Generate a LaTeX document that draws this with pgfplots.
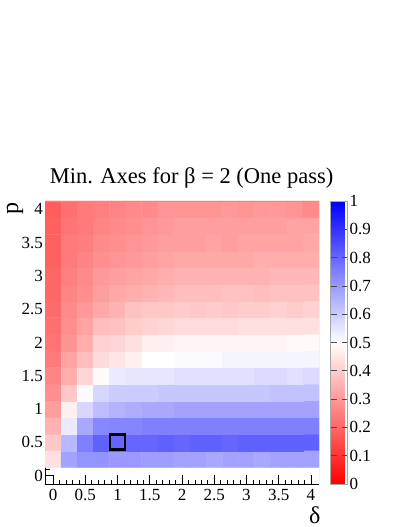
\documentclass[border=0pt]{standalone}
\usepackage{pgfplots}
\pgfplotsset{compat=1.18}
\usepackage{fontspec}
\setmainfont{Liberation Serif}
\begin{document}
\begin{tikzpicture}
\useasboundingbox (0pt,0pt) rectangle (407pt,527pt);
\begin{axis}[
  at={(45pt,43pt)}, anchor=south west,
  scale only axis, width=274pt, height=283pt,
  xmin=-0.125, xmax=4.125, ymin=-0.125, ymax=4.125,
  axis x line*=bottom, axis y line*=left,
  axis line style={black, line width=0.7pt},
  xtick={0,0.5,1,1.5,2,2.5,3,3.5,4},
  ytick={0,0.5,1,1.5,2,2.5,3,3.5,4},
  xticklabels={0,0.5,1,1.5,2,2.5,3,3.5,4},
  yticklabels={0,0.5,1,1.5,2,2.5,3,3.5,4},
  minor x tick num=4, minor y tick num=4,
  tick align=inside,
  major tick length=9pt, minor tick length=4.5pt,
  tick style={black, line width=0.6pt},
  /pgf/number format/assume math mode=true,
  ticklabel style={font=\fontsize{17}{17}\selectfont},
  xticklabel style={inner sep=0pt, yshift=-5pt},
  yticklabel style={inner sep=1pt, xshift=-1pt},
  title={Min. Axes for β = 2 (One pass)},
  title style={at={(axis description cs:0.535,1)}, anchor=base, yshift=11pt, font=\fontsize{22.5}{24}\selectfont},
  xlabel={δ},
  xlabel style={at={(axis description cs:0.985,0)}, anchor=base, yshift=-39pt, font=\fontsize{24}{24}\selectfont},
  ylabel={p},
  ylabel style={at={(axis description cs:-0.098,1)}, anchor=base east, inner sep=1pt, font=\fontsize{24}{24}\selectfont},
  colormap={rwb}{rgb255=(255,0,0) rgb255=(255,255,255) rgb255=(0,0,255)},
  point meta min=0, point meta max=1,
  colorbar,
  colorbar style={
    at={(parent axis.north east)}, anchor=north west, xshift=3pt,
    width=17pt,
    ytick={0,0.1,0.2,0.3,0.4,0.5,0.6,0.7,0.8,0.9,1},
    yticklabels={0,0.1,0.2,0.3,0.4,0.5,0.6,0.7,0.8,0.9,1},
    tick align=inside, major tick length=6pt,
    tick style={black!70, line width=0.6pt},
    axis line style={gray!70},
    /pgf/number format/assume math mode=true,
    yticklabel style={font=\fontsize{17}{17}\selectfont, anchor=west, inner sep=1pt, xshift=1pt},
  },
]
\addplot[matrix plot*, mesh/cols=17, point meta=explicit] table[row sep=\\, meta=c] {
x y c\\
0 0.25 0.44\\ 0.25 0.25 0.68\\ 0.5 0.25 0.71\\ 0.75 0.25 0.71\\ 1 0.25 0.70\\ 1.25 0.25 0.70\\ 1.5 0.25 0.69\\ 1.75 0.25 0.69\\ 2 0.25 0.68\\ 2.25 0.25 0.68\\ 2.5 0.25 0.67\\ 2.75 0.25 0.68\\ 3 0.25 0.68\\ 3.25 0.25 0.67\\ 3.5 0.25 0.68\\ 3.75 0.25 0.68\\ 4 0.25 0.68\\
0 0.5 0.39\\ 0.25 0.5 0.64\\ 0.5 0.5 0.75\\ 0.75 0.5 0.81\\ 1 0.5 0.80\\ 1.25 0.5 0.80\\ 1.5 0.5 0.80\\ 1.75 0.5 0.81\\ 2 0.5 0.80\\ 2.25 0.5 0.81\\ 2.5 0.5 0.81\\ 2.75 0.5 0.80\\ 3 0.5 0.81\\ 3.25 0.5 0.81\\ 3.5 0.5 0.81\\ 3.75 0.5 0.81\\ 4 0.5 0.81\\
0 0.75 0.35\\ 0.25 0.75 0.54\\ 0.5 0.75 0.67\\ 0.75 0.75 0.735\\ 1 0.75 0.74\\ 1.25 0.75 0.74\\ 1.5 0.75 0.75\\ 1.75 0.75 0.75\\ 2 0.75 0.75\\ 2.25 0.75 0.75\\ 2.5 0.75 0.75\\ 2.75 0.75 0.75\\ 3 0.75 0.75\\ 3.25 0.75 0.75\\ 3.5 0.75 0.75\\ 3.75 0.75 0.75\\ 4 0.75 0.75\\
0 1 0.31\\ 0.25 1 0.47\\ 0.5 1 0.58\\ 0.75 1 0.63\\ 1 1 0.65\\ 1.25 1 0.66\\ 1.5 1 0.67\\ 1.75 1 0.67\\ 2 1 0.68\\ 2.25 1 0.68\\ 2.5 1 0.68\\ 2.75 1 0.68\\ 3 1 0.68\\ 3.25 1 0.68\\ 3.5 1 0.68\\ 3.75 1 0.68\\ 4 1 0.68\\
0 1.25 0.28\\ 0.25 1.25 0.39\\ 0.5 1.25 0.51\\ 0.75 1.25 0.58\\ 1 1.25 0.60\\ 1.25 1.25 0.60\\ 1.5 1.25 0.60\\ 1.75 1.25 0.61\\ 2 1.25 0.61\\ 2.25 1.25 0.61\\ 2.5 1.25 0.61\\ 2.75 1.25 0.61\\ 3 1.25 0.61\\ 3.25 1.25 0.61\\ 3.5 1.25 0.62\\ 3.75 1.25 0.62\\ 4 1.25 0.62\\
0 1.5 0.26\\ 0.25 1.5 0.34\\ 0.5 1.5 0.42\\ 0.75 1.5 0.49\\ 1 1.5 0.54\\ 1.25 1.5 0.55\\ 1.5 1.5 0.55\\ 1.75 1.5 0.55\\ 2 1.5 0.56\\ 2.25 1.5 0.56\\ 2.5 1.5 0.56\\ 2.75 1.5 0.56\\ 3 1.5 0.56\\ 3.25 1.5 0.57\\ 3.5 1.5 0.57\\ 3.75 1.5 0.56\\ 4 1.5 0.57\\
0 1.75 0.24\\ 0.25 1.75 0.32\\ 0.5 1.75 0.37\\ 0.75 1.75 0.43\\ 1 1.75 0.45\\ 1.25 1.75 0.47\\ 1.5 1.75 0.50\\ 1.75 1.75 0.50\\ 2 1.75 0.51\\ 2.25 1.75 0.51\\ 2.5 1.75 0.51\\ 2.75 1.75 0.52\\ 3 1.75 0.52\\ 3.25 1.75 0.52\\ 3.5 1.75 0.52\\ 3.75 1.75 0.52\\ 4 1.75 0.52\\
0 2 0.23\\ 0.25 2 0.29\\ 0.5 2 0.34\\ 0.75 2 0.41\\ 1 2 0.42\\ 1.25 2 0.44\\ 1.5 2 0.47\\ 1.75 2 0.47\\ 2 2 0.48\\ 2.25 2 0.48\\ 2.5 2 0.48\\ 2.75 2 0.48\\ 3 2 0.48\\ 3.25 2 0.48\\ 3.5 2 0.48\\ 3.75 2 0.49\\ 4 2 0.49\\
0 2.25 0.22\\ 0.25 2.25 0.28\\ 0.5 2.25 0.32\\ 0.75 2.25 0.37\\ 1 2.25 0.38\\ 1.25 2.25 0.40\\ 1.5 2.25 0.41\\ 1.75 2.25 0.42\\ 2 2.25 0.43\\ 2.25 2.25 0.43\\ 2.5 2.25 0.43\\ 2.75 2.25 0.43\\ 3 2.25 0.44\\ 3.25 2.25 0.44\\ 3.5 2.25 0.44\\ 3.75 2.25 0.44\\ 4 2.25 0.44\\
0 2.5 0.21\\ 0.25 2.5 0.27\\ 0.5 2.5 0.30\\ 0.75 2.5 0.33\\ 1 2.5 0.35\\ 1.25 2.5 0.38\\ 1.5 2.5 0.39\\ 1.75 2.5 0.39\\ 2 2.5 0.40\\ 2.25 2.5 0.39\\ 2.5 2.5 0.40\\ 2.75 2.5 0.39\\ 3 2.5 0.40\\ 3.25 2.5 0.40\\ 3.5 2.5 0.41\\ 3.75 2.5 0.40\\ 4 2.5 0.41\\
0 2.75 0.20\\ 0.25 2.75 0.26\\ 0.5 2.75 0.28\\ 0.75 2.75 0.31\\ 1 2.75 0.33\\ 1.25 2.75 0.34\\ 1.5 2.75 0.35\\ 1.75 2.75 0.36\\ 2 2.75 0.37\\ 2.25 2.75 0.37\\ 2.5 2.75 0.37\\ 2.75 2.75 0.38\\ 3 2.75 0.38\\ 3.25 2.75 0.37\\ 3.5 2.75 0.38\\ 3.75 2.75 0.38\\ 4 2.75 0.38\\
0 3 0.20\\ 0.25 3 0.25\\ 0.5 3 0.27\\ 0.75 3 0.30\\ 1 3 0.31\\ 1.25 3 0.32\\ 1.5 3 0.33\\ 1.75 3 0.34\\ 2 3 0.35\\ 2.25 3 0.35\\ 2.5 3 0.35\\ 2.75 3 0.35\\ 3 3 0.35\\ 3.25 3 0.35\\ 3.5 3 0.36\\ 3.75 3 0.36\\ 4 3 0.36\\
0 3.25 0.19\\ 0.25 3.25 0.24\\ 0.5 3.25 0.26\\ 0.75 3.25 0.28\\ 1 3.25 0.29\\ 1.25 3.25 0.30\\ 1.5 3.25 0.31\\ 1.75 3.25 0.32\\ 2 3.25 0.33\\ 2.25 3.25 0.33\\ 2.5 3.25 0.33\\ 2.75 3.25 0.33\\ 3 3.25 0.33\\ 3.25 3.25 0.34\\ 3.5 3.25 0.34\\ 3.75 3.25 0.34\\ 4 3.25 0.34\\
0 3.5 0.19\\ 0.25 3.5 0.24\\ 0.5 3.5 0.25\\ 0.75 3.5 0.27\\ 1 3.5 0.28\\ 1.25 3.5 0.29\\ 1.5 3.5 0.30\\ 1.75 3.5 0.31\\ 2 3.5 0.31\\ 2.25 3.5 0.31\\ 2.5 3.5 0.32\\ 2.75 3.5 0.31\\ 3 3.5 0.32\\ 3.25 3.5 0.32\\ 3.5 3.5 0.32\\ 3.75 3.5 0.32\\ 4 3.5 0.33\\
0 3.75 0.19\\ 0.25 3.75 0.23\\ 0.5 3.75 0.24\\ 0.75 3.75 0.26\\ 1 3.75 0.27\\ 1.25 3.75 0.28\\ 1.5 3.75 0.29\\ 1.75 3.75 0.30\\ 2 3.75 0.31\\ 2.25 3.75 0.31\\ 2.5 3.75 0.31\\ 2.75 3.75 0.31\\ 3 3.75 0.31\\ 3.25 3.75 0.31\\ 3.5 3.75 0.31\\ 3.75 3.75 0.32\\ 4 3.75 0.32\\
0 4 0.18\\ 0.25 4 0.22\\ 0.5 4 0.24\\ 0.75 4 0.25\\ 1 4 0.26\\ 1.25 4 0.27\\ 1.5 4 0.27\\ 1.75 4 0.29\\ 2 4 0.29\\ 2.25 4 0.29\\ 2.5 4 0.29\\ 2.75 4 0.30\\ 3 4 0.29\\ 3.25 4 0.30\\ 3.5 4 0.30\\ 3.75 4 0.29\\ 4 4 0.27\\
};
\addplot[only marks, mark=square, mark size=7.5pt, mark options={draw=black, fill=none, line width=2.8pt, line join=miter}] coordinates {(1,0.5)};
\draw[gray!70, line width=0.7pt] (rel axis cs:0,1) -- (rel axis cs:1,1) -- (rel axis cs:1,0);
\end{axis}
\end{tikzpicture}
\end{document}
